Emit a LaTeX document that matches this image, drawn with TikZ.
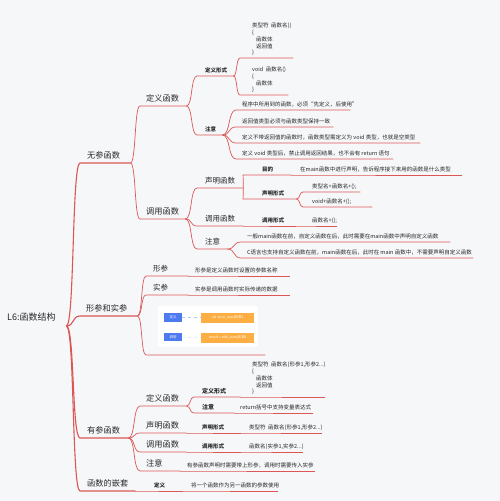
\documentclass[tikz,border=0pt]{standalone}
\usepackage{fontspec}
\setmainfont{Noto Sans CJK SC}
\usetikzlibrary{calc}
\definecolor{bg}{RGB}{246,247,249}
\definecolor{ln}{RGB}{220,86,86}
\definecolor{tx}{RGB}{40,40,40}
\definecolor{bl}{RGB}{78,122,240}
\definecolor{og}{RGB}{253,174,66}
\newcommand\ub[3]{\makebox[#1pt][l]{\hspace*{#2pt}#3}}
\newcommand\brc[3][]{\draw[br,#1] let \p1=(#2.south east), \p2=(#3.south west) in (\p1) .. controls ({\x1+0.6*(\x2-\x1)},\y1) and ({\x2-0.6*(\x2-\x1)},\y2) .. (\p2) -- (#3.south east);}
\tikzset{
  nd/.style={anchor=south west, inner xsep=0pt, text=tx},
  fR/.style={nd, font=\fontsize{9}{10}\selectfont, text depth=2.5pt, inner ysep=3pt},
  fA/.style={nd, font=\fontsize{8.2}{9}\selectfont, text depth=2.3pt, inner ysep=2.5pt},
  fB/.style={nd, font=\fontsize{7.5}{8.5}\selectfont, text depth=2pt, inner ysep=2.2pt},
  fL/.style={nd, font=\fontsize{5.5}{6.8}\selectfont\bfseries, text depth=1.5pt, inner ysep=1.5pt},
  fM/.style={nd, font=\fontsize{6}{7}\selectfont\bfseries, text depth=1.6pt, inner ysep=1.6pt},
  fs/.style={nd, font=\fontsize{5.5}{6.8}\selectfont, text depth=1.5pt, inner ysep=1.5pt},
  br/.style={draw=ln, line width=0.7pt},
  brt/.style={draw=ln, line width=1.1pt},
  btn/.style={fill=bl, text=white, minimum width=18pt, minimum height=8.5pt, inner sep=0pt, font=\fontsize{3.5}{4}\selectfont},
  obox/.style={fill=og, text=white, minimum width=53pt, minimum height=10pt, inner sep=0pt, font=\fontsize{3.5}{4}\selectfont},
  dl/.style={draw=bl!40, dashed, line width=0.3pt}
}
\begin{document}
\begin{tikzpicture}[x=1pt,y=-1pt]
\fill[bg] (0,0) rectangle (500,501);
\useasboundingbox (0,0) rectangle (500,501);
% root and level 1
\node[fR] (R) at (0,326) {\ub{66}{7}{L6:函数结构}};
\node[fA] (A) at (80,163) {\ub{50}{7}{无参函数}};
\node[fA] (B) at (80,316) {\ub{57}{6}{形参和实参}};
\node[fA] (C) at (80,438) {\ub{48}{7}{有参函数}};
\node[fA] (D) at (80,491) {\ub{55}{7}{函数的嵌套}};
\brc[brt]{R}{A}\brc[brt]{R}{B}\brc[brt]{R}{C}\brc[brt]{R}{D}
% 无参函数
\node[fA] (A1) at (140,106) {\ub{46}{6}{定义函数}};
\node[fA] (A2) at (140,219) {\ub{45}{6}{调用函数}};
\brc{A}{A1}\brc{A}{A2}
\node[fL] (A11) at (197,76) {\ub{36}{8}{定义形式}};
\node[fL] (A12) at (197,135) {\ub{25}{8}{注意}};
\brc{A1}{A11}\brc{A1}{A12}
\node[fs] (A111) at (240,58) {\ub{53}{12}{\begin{tabular}[b]{@{}l@{}}类型符\ \ 函数名()\\\{\\\hspace*{4pt}函数体\\\hspace*{4pt}返回值\\\}\end{tabular}}};
\node[fs] (A112) at (240,95) {\ub{48}{12}{\begin{tabular}[b]{@{}l@{}}void\ \ 函数名()\\\{\\\hspace*{4pt}函数体\\\}\end{tabular}}};
\brc{A11}{A111}\brc{A11}{A112}
\node[fs] (A121) at (236,110) {\ub{114}{6}{程序中所用到的函数，必须“先定义，后使用”}};
\node[fs] (A122) at (236,127) {\ub{97}{6}{返回值类型必须与函数类型保持一致}};
\node[fs] (A123) at (236,143) {\ub{184}{6}{定义不带返回值的函数时，函数类型需定义为 void 类型，也就是空类型}};
\node[fs] (A124) at (236,159) {\ub{157}{6}{定义 void 类型后，禁止调用返回结果，也不会有 return 语句}};
\brc{A12}{A121}\brc{A12}{A122}\brc{A12}{A123}\brc{A12}{A124}
% 调用函数
\node[fB] (A21) at (197,188) {\ub{46}{8}{声明函数}};
\node[fB] (A22) at (197,226) {\ub{46}{8}{调用函数}};
\node[fB] (A23) at (197,249) {\ub{30}{8}{注意}};
\brc{A2}{A21}\brc{A2}{A22}\brc{A2}{A23}
\node[fL] (A211) at (243,175) {\ub{48}{19}{目的}};
\node[fs] (A2111) at (291,175) {\ub{171}{9}{在main函数中进行声明，告诉程序接下来用的函数是什么类型}};
\node[fL] (A212) at (243,199) {\ub{53}{19}{声明形式}};
\brc{A21}{A211}\brc{A211}{A2111}\brc{A21}{A212}
\node[fs] (A2121) at (303,192) {\ub{57}{9}{类型名+函数名+();}};
\node[fs] (A2122) at (303,207) {\ub{69}{9}{void+函数名+();}};
\brc{A212}{A2121}\brc{A212}{A2122}
\node[fL] (A221) at (243,226) {\ub{53}{19}{调用形式}};
\node[fs] (A2211) at (296,226) {\ub{41}{16}{函数名+();}};
\brc{A22}{A221}\brc{A221}{A2211}
\node[fs] (A231) at (241,242) {\ub{209}{6}{一般main函数在前，自定义函数在后，此时需要在main函数中声明自定义函数}};
\node[fs] (A232) at (241,258) {\ub{232}{6}{C语言也支持自定义函数在前，main函数在后，此时在 main 函数中，不需要声明自定义函数}};
\brc{A23}{A231}\brc{A23}{A232}
% 形参和实参
\node[fB] (B1) at (146,276) {\ub{42}{7}{形参}};
\node[fs] (B11) at (188,276) {\ub{102}{7}{形参是定义函数时设置的参数名称}};
\node[fB] (B2) at (146,295) {\ub{42}{7}{实参}};
\node[fs] (B21) at (188,295) {\ub{102}{7}{实参是调用函数时实际传递的数据}};
\node[fs] (B3) at (146,355) {\ub{119}{0}{}};
\brc{B}{B1}\brc{B1}{B11}\brc{B}{B2}\brc{B2}{B21}\brc{B}{B3}
\node[draw=black!6, fill=white, rounded corners=2pt, minimum width=101pt, minimum height=42pt, anchor=north west, inner sep=0pt] (img) at (157,305) {};
\node[btn] (k1) at (173,317.5) {定义};
\node[obox] (v1) at (227.5,317.5) {int\ \ sum\_max(形参)};
\node[btn] (k2) at (173,337) {调用};
\node[obox] (v2) at (227.5,337.5) {result = add\_sum(实参)};
\draw[dl] (k1) -- (v1);
\draw[dl] (k2) -- (v2);
% 有参函数
\node[fA] (C1) at (140,406) {\ub{46}{6}{定义函数}};
\node[fA] (C2) at (140,433) {\ub{46}{6}{声明函数}};
\node[fA] (C3) at (140,452) {\ub{46}{6}{调用函数}};
\node[fA] (C4) at (140,471) {\ub{40}{6}{注意}};
\brc{C}{C1}\brc{C}{C2}\brc{C}{C3}\brc{C}{C4}
\node[fM] (C11) at (194,397) {\ub{46}{8}{定义形式}};
\node[fM] (C12) at (194,413) {\ub{40}{8}{注意}};
\brc{C1}{C11}\brc{C1}{C12}
\node[fs] (C111) at (240,397) {\ub{85}{12}{\begin{tabular}[b]{@{}l@{}}类型符\ \ 函数名(形参1,形参2...)\\\{\\\hspace*{4pt}函数体\\\hspace*{4pt}返回值\\\}\end{tabular}}};
\node[fs] (C121) at (234,413) {\ub{79}{6}{return括号中支持变量表达式}};
\brc{C11}{C111}\brc{C12}{C121}
\node[fL] (C21) at (186,433) {\ub{55}{16}{声明形式}};
\node[fs] (C211) at (241,433) {\ub{81}{8}{类型符\ \ 函数名(形参1,形参2...)}};
\brc{C2}{C21}\brc{C21}{C211}
\node[fL] (C31) at (186,452) {\ub{55}{16}{调用形式}};
\node[fs] (C311) at (241,452) {\ub{62}{8}{函数名(实参1,实参2...)}};
\brc{C3}{C31}\brc{C31}{C311}
\node[fs] (C41) at (180,471) {\ub{135}{7}{有参函数声明时需要带上形参，调用时需要传入实参}};
\brc{C4}{C41}
% 函数的嵌套
\node[fL] (D1) at (135,491) {\ub{48}{19}{定义}};
\node[fs] (D11) at (183,491) {\ub{95}{8}{将一个函数作为另一函数的参数使用}};
\brc{D}{D1}\brc{D1}{D11}
\end{tikzpicture}
\end{document}
